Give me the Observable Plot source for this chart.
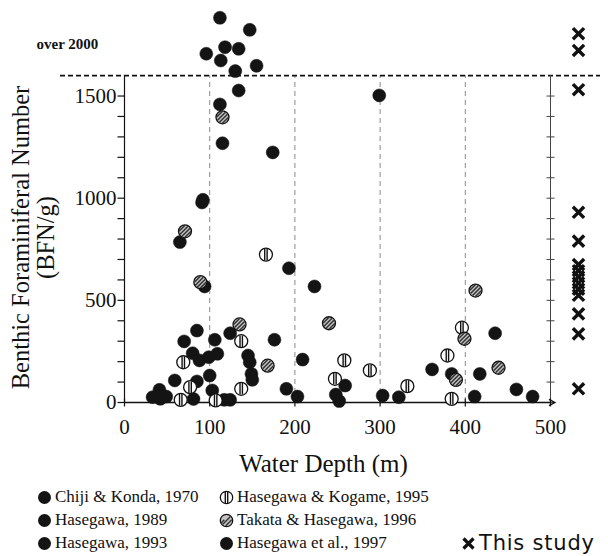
<!DOCTYPE html>
<html><head><meta charset="utf-8">
<script src="https://cdn.jsdelivr.net/npm/d3@7"></script>
<script src="https://cdn.jsdelivr.net/npm/@observablehq/plot@0.6"></script>
<style>
body{margin:0;background:#fff}
#wrap{width:608px;position:relative}
#legend{position:relative;width:608px;height:76px;font-family:"Liberation Serif",serif;font-size:17px;color:#111}
.item{position:absolute;height:22px;line-height:22px;white-space:nowrap;display:flex;align-items:center}
.item svg{margin-right:3px}
</style>
</head><body>
<div id="wrap"><div id="chart"></div><div id="legend"></div></div>
<script>
// ---- axes / ticks ----
const xDomain = [0, 500];
const yDomain = [0, 1600];           // above 1600: "over 2000" band
const xTicks = [0, 100, 200, 300, 400, 500];
const xGrid = [100, 200, 300, 400];
const yLabels = [0, 500, 1000, 1500];
const yTicks = [0, 100, 200, 300, 400, 500, 600, 700, 800, 900, 1000, 1100, 1200, 1300, 1400, 1500];
const yGrid = [100, 200, 300, 400, 500, 600, 700, 800, 900, 1000, 1100, 1200, 1300, 1400, 1500];
const overLine = [1600];

// ---- data: [water depth (m), BFN/g] ----
// solid circles (Chiji & Konda 1970; Hasegawa 1989, 1993; Hasegawa et al. 1997)
const solidPoints = [
  [112,1883],[147,1824],[96,1707],[118,1739],[134,1731],[113,1674],[155,1648],[130,1622],
  [134,1527],[112,1459],[115,1269],[174,1224],[299,1503],
  [91,979],[92,992],[65,785],[193,657],[94,568],[223,568],
  [85,352],[124,339],[70,299],[106,307],[176,307],
  [80,241],[88,206],[99,222],[109,238],[145,230],[147,197],[209,210],
  [59,108],[85,103],[100,132],[149,140],[150,111],[103,59],[190,67],[203,29],
  [259,83],[248,39],[252,7],
  [33,26],[41,62],[42,18],[49,29],[81,17],[117,13],[124,13],
  [303,34],[322,26],
  [435,339],[361,162],[384,140],[417,140],[411,29],[460,64],[479,29]
];
// Hasegawa & Kogame, 1995 (vertically striped circles)
const kogame1995 = [
  [166,724],[137,300],[69,197],[258,206],[77,75],[137,67],[247,116],[66,13],[107,10],
  [288,157],[332,80],[396,366],[379,230],[384,18]
];
// Takata & Hasegawa, 1996 (hatched circles)
const takata1996 = [
  [115,1396],[71,838],[89,589],[135,382],[240,388],[168,180],
  [412,548],[399,312],[389,111],[439,170]
];
// This study (depth not shown: drawn in the right-hand column)
const thisStudy = [1805,1723,1531,931,790,675,645,615,585,555,525,434,336,67];

const legendCol1 = ["Chiji & Konda, 1970", "Hasegawa, 1989", "Hasegawa, 1993"];
const legendCol2 = ["Hasegawa & Kogame, 1995", "Takata & Hasegawa, 1996", "Hasegawa et al., 1997"];
const legendCol2Kind = ["vstripe", "hatch", "solid"];
const legendStudy = "This study";

// ---- custom symbols ----
const sym = (fn) => ({draw(c, size) { fn(c, Math.sqrt(size / Math.PI)); }});
const tickLeft = sym((c, r) => { c.moveTo(-r, 0); c.lineTo(0, 0); });
const tickH = sym((c, r) => { c.moveTo(-r, 0); c.lineTo(r, 0); });
const tickV = sym((c, r) => { c.moveTo(0, -r); c.lineTo(0, r); });
const chevron = sym((c, r) => { c.moveTo(-r, -r * 0.7); c.lineTo(r * 0.3, 0); c.lineTo(-r, r * 0.7); });
const cross = sym((c, r) => { const a = r * 0.8; c.moveTo(-a, -a); c.lineTo(a, a); c.moveTo(-a, a); c.lineTo(a, -a); });
const vbars = sym((c, r) => { for (const d of [-1.2, 1.2]) { const h = Math.sqrt(r * r - d * d) - 0.6; c.moveTo(d, -h); c.lineTo(d, h); } });
const hatch = sym((c, r) => {
  const s = Math.SQRT1_2;
  for (const d of [-4.2, -1.4, 1.4, 4.2]) {
    const h = Math.sqrt(Math.max(0, r * r - d * d)) - 0.7;
    if (h <= 0) continue;
    const cx = d * s, cy = d * s;
    c.moveTo(cx - h * s, cy + h * s); c.lineTo(cx + h * s, cy - h * s);
  }
});

const R = 6.5;
const serif = "Liberation Serif";

const chart = Plot.plot({
  width: 608, height: 480,
  marginTop: 0, marginBottom: 78, marginLeft: 60, marginRight: 8,
  x: {domain: xDomain, range: [124, 550], axis: null},
  y: {domain: yDomain, range: [402, 75.1], axis: null},
  style: {fontFamily: serif, background: "transparent", color: "#111"},
  marks: [
    // grid
    Plot.ruleY(yGrid, {x1: () => xDomain[0], stroke: "#8a8a8a", strokeWidth: 1, strokeDasharray: "7,4"}),
    Plot.ruleX(xGrid, {y1: () => yDomain[0], y2: () => yDomain[1], stroke: "#8a8a8a", strokeWidth: 1, strokeDasharray: "5,4"}),
    Plot.ruleY(overLine, {stroke: "#111", strokeWidth: 1.8, strokeDasharray: "5,3"}),
    // right frame
    Plot.ruleX([xDomain[1]], {y1: () => yDomain[0], y2: () => yDomain[1], stroke: "#444", strokeWidth: 1}),
    Plot.dot(yTicks, {x: () => xDomain[1], y: d => d, symbol: tickH, r: 4, stroke: "#444", fill: "none", strokeWidth: 1}),
    // left axis
    Plot.ruleX([xDomain[0]], {y1: () => yDomain[0], y2: () => yDomain[1], stroke: "#111", strokeWidth: 1.2}),
    Plot.dot(yTicks, {x: () => xDomain[0], y: d => d, symbol: tickLeft, r: 7, stroke: "#111", fill: "none", strokeWidth: 1.2}),
    Plot.text(yLabels, {x: () => xDomain[0], y: d => d, text: d => String(d), textAnchor: "end", lineAnchor: "middle", dx: -8, fontSize: 21, fill: "#111"}),
    // bottom axis
    Plot.ruleY([yDomain[0]], {x1: () => xDomain[0], x2: () => xDomain[1], stroke: "#111", strokeWidth: 1.5}),
    Plot.dot([xDomain[1]], {x: d => d, y: () => yDomain[0], symbol: chevron, r: 4.5, stroke: "#111", fill: "none", strokeWidth: 1.4, dx: 3}),
    Plot.dot(xTicks, {x: d => d, y: () => yDomain[0], symbol: tickV, r: 4, stroke: "#111", fill: "none", strokeWidth: 1.2}),
    Plot.text(xTicks, {x: d => d, frameAnchor: "bottom", lineAnchor: "middle", text: d => String(d), dy: 25, fontSize: 21, fill: "#111"}),
    // titles
    Plot.text(["Water Depth (m)"], {frameAnchor: "bottom", lineAnchor: "middle", textAnchor: "middle", dy: 61, dx: -7, fontSize: 25, fill: "#111"}),
    Plot.text(["Benthic Foraminiferal Number\n(BFN/g)"], {frameAnchor: "left", textAnchor: "middle", lineAnchor: "middle", rotate: -90, dx: -27.5, dy: 36, fontSize: 24.5, lineHeight: 1.02, fill: "#111"}),
    Plot.text(["over 2000"], {frameAnchor: "top-left", textAnchor: "start", lineAnchor: "middle", dx: -24, dy: 44, fontSize: 15, fontWeight: "bold", fill: "#111"}),
    // data
    Plot.dot(solidPoints, {x: d => d[0], y: d => d[1], r: R, fill: "#141414", stroke: "#141414", strokeWidth: 0.5}),
    Plot.dot(kogame1995, {x: d => d[0], y: d => d[1], r: R, fill: "white", stroke: "#111", strokeWidth: 1.3}),
    Plot.dot(kogame1995, {x: d => d[0], y: d => d[1], r: R, symbol: vbars, fill: "none", stroke: "#111", strokeWidth: 1.4}),
    Plot.dot(takata1996, {x: d => d[0], y: d => d[1], r: R, fill: "#c4c4c4", stroke: "#111", strokeWidth: 1.3}),
    Plot.dot(takata1996, {x: d => d[0], y: d => d[1], r: R, symbol: hatch, fill: "none", stroke: "#333", strokeWidth: 1.5}),
    Plot.dot(thisStudy, {y: d => d, frameAnchor: "right", dx: -22, r: 7, symbol: cross, fill: "none", stroke: "#111", strokeWidth: 3.4})
  ]
});
document.getElementById("chart").append(chart);

// ---- legend ----
const legend = document.getElementById("legend");
const ns = "http://www.w3.org/2000/svg";
function marker(kind) {
  const s = document.createElementNS(ns, "svg");
  s.setAttribute("width", 15); s.setAttribute("height", 15);
  s.setAttribute("viewBox", "-7.5 -7.5 15 15");
  let html = "";
  if (kind === "solid") html = `<circle r="6.5" fill="#141414"/>`;
  if (kind === "vstripe") html = `<circle r="6.2" fill="white" stroke="#111" stroke-width="1.3"/><path d="M-1.2,-5.5V5.5M1.2,-5.5V5.5" stroke="#111" stroke-width="1.4"/>`;
  if (kind === "hatch") html = `<circle r="6.2" fill="#c4c4c4" stroke="#111" stroke-width="1.3"/><path d="M-5.2,2.2L-2.2,-0.8M-4,4L4,-4M-0.8,5.2L5.2,-0.8M-2.2,2.2L2.2,-2.2" stroke="#333" stroke-width="1.4"/>`;
  if (kind === "cross") html = `<path d="M-5,-5L5,5M-5,5L5,-5" stroke="#111" stroke-width="3.2"/>`;
  s.innerHTML = html;
  return s;
}
function addItem(left, top, kind, label, font, size, spacing) {
  const d = document.createElement("div");
  d.className = "item";
  d.style.left = left + "px"; d.style.top = top + "px";
  if (font) d.style.fontFamily = font;
  if (size) d.style.fontSize = size + "px";
  if (spacing) d.style.letterSpacing = spacing + "px";
  d.append(marker(kind));
  const t = document.createElement("span"); t.textContent = label;
  d.append(t);
  legend.append(d);
}
const rowTops = [6, 29, 52];
legendCol1.forEach((l, i) => addItem(37, rowTops[i], "solid", l));
legendCol2.forEach((l, i) => addItem(219, rowTops[i], legendCol2Kind[i], l));
addItem(461, rowTops[2], "cross", legendStudy, "DejaVu Sans", 21, 0.8);
</script>
</body></html>
